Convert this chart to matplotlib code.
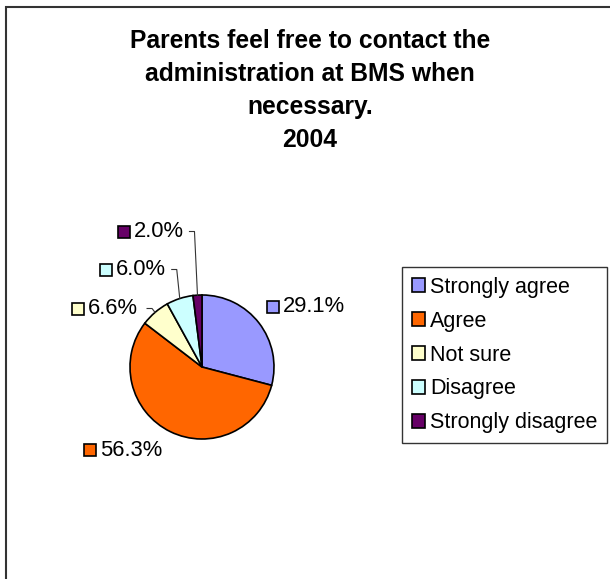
import numpy as np
import matplotlib
matplotlib.use("Agg")
import matplotlib.pyplot as plt
from matplotlib.patches import Rectangle

plt.rcParams["font.family"] = ["Liberation Sans", "DejaVu Sans"]

# survey answers, 2004
categories = ["Strongly agree", "Agree", "Not sure", "Disagree", "Strongly disagree"]
shares = [29.1, 56.3, 6.6, 6.0, 2.0]
colors = ["#9999FF", "#FF6600", "#FFFFCC", "#CCFFFF", "#660066"]
title = "Parents feel free to contact the\nadministration at BMS when\nnecessary.\n2004"

W, H = 610, 579
fig = plt.figure(figsize=(W / 100, H / 100), dpi=100)
ax = fig.add_axes([0, 0, 1, 1])


def py(y):
    # pixel rows count from the top, data y from the bottom
    return H - y


cx, cy, r = 202, py(367), 72
wedges, _ = ax.pie(
    shares,
    colors=colors,
    startangle=90,
    counterclock=False,
    center=(cx, cy),
    radius=r,
    wedgeprops=dict(edgecolor="black", linewidth=1.2),
)
ax.set_xlim(0, W)
ax.set_ylim(0, H)
ax.set_aspect("equal")
ax.axis("off")

# label anchors: left edge of the colour key, vertical centre (pixels)
label_pos = [(267, 306.5), (84, 450), (72, 308.5), (100, 269.5), (118, 231.5)]
with_leader = [False, False, True, True, True]
key = 12
for w, v, c, (lx, ly), lead in zip(wedges, shares, colors, label_pos, with_leader):
    ax.add_patch(Rectangle((lx, py(ly) - key / 2), key, key,
                           facecolor=c, edgecolor="black", linewidth=1.2))
    ax.text(lx + key + 4, py(ly), f"{v:.1f}%", fontsize=15.8,
            va="center", ha="left")
    if lead:
        mid = np.deg2rad((w.theta1 + w.theta2) / 2)
        ex, ey = cx + r * np.cos(mid), cy + r * np.sin(mid)
        knee = ex - 3
        ax.plot([knee - 5, knee, ex], [py(ly), py(ly), ey],
                color="#333333", linewidth=0.8)

ax.text(310, py(29), title, fontsize=17.7, fontweight="bold",
        ha="center", va="top", linespacing=1.48, multialignment="center")

leg = ax.legend(
    wedges, categories,
    loc="upper left", bbox_to_anchor=(402, py(267)), bbox_transform=ax.transData,
    frameon=True, fancybox=False, edgecolor="black", fontsize=15.5,
    borderaxespad=0, borderpad=0.45, labelspacing=0.6,
    handlelength=0.6, handleheight=0.6, handletextpad=0.25,
)
leg.get_frame().set_linewidth(1.0)

# chart area border, running off the right and bottom edges
fig.add_artist(Rectangle((6 / W, -0.05), 2, (H - 7) / H + 0.05,
                         transform=fig.transFigure, fill=False,
                         linewidth=1.5, edgecolor="#333333"))

fig.savefig("out.png", dpi=100)
